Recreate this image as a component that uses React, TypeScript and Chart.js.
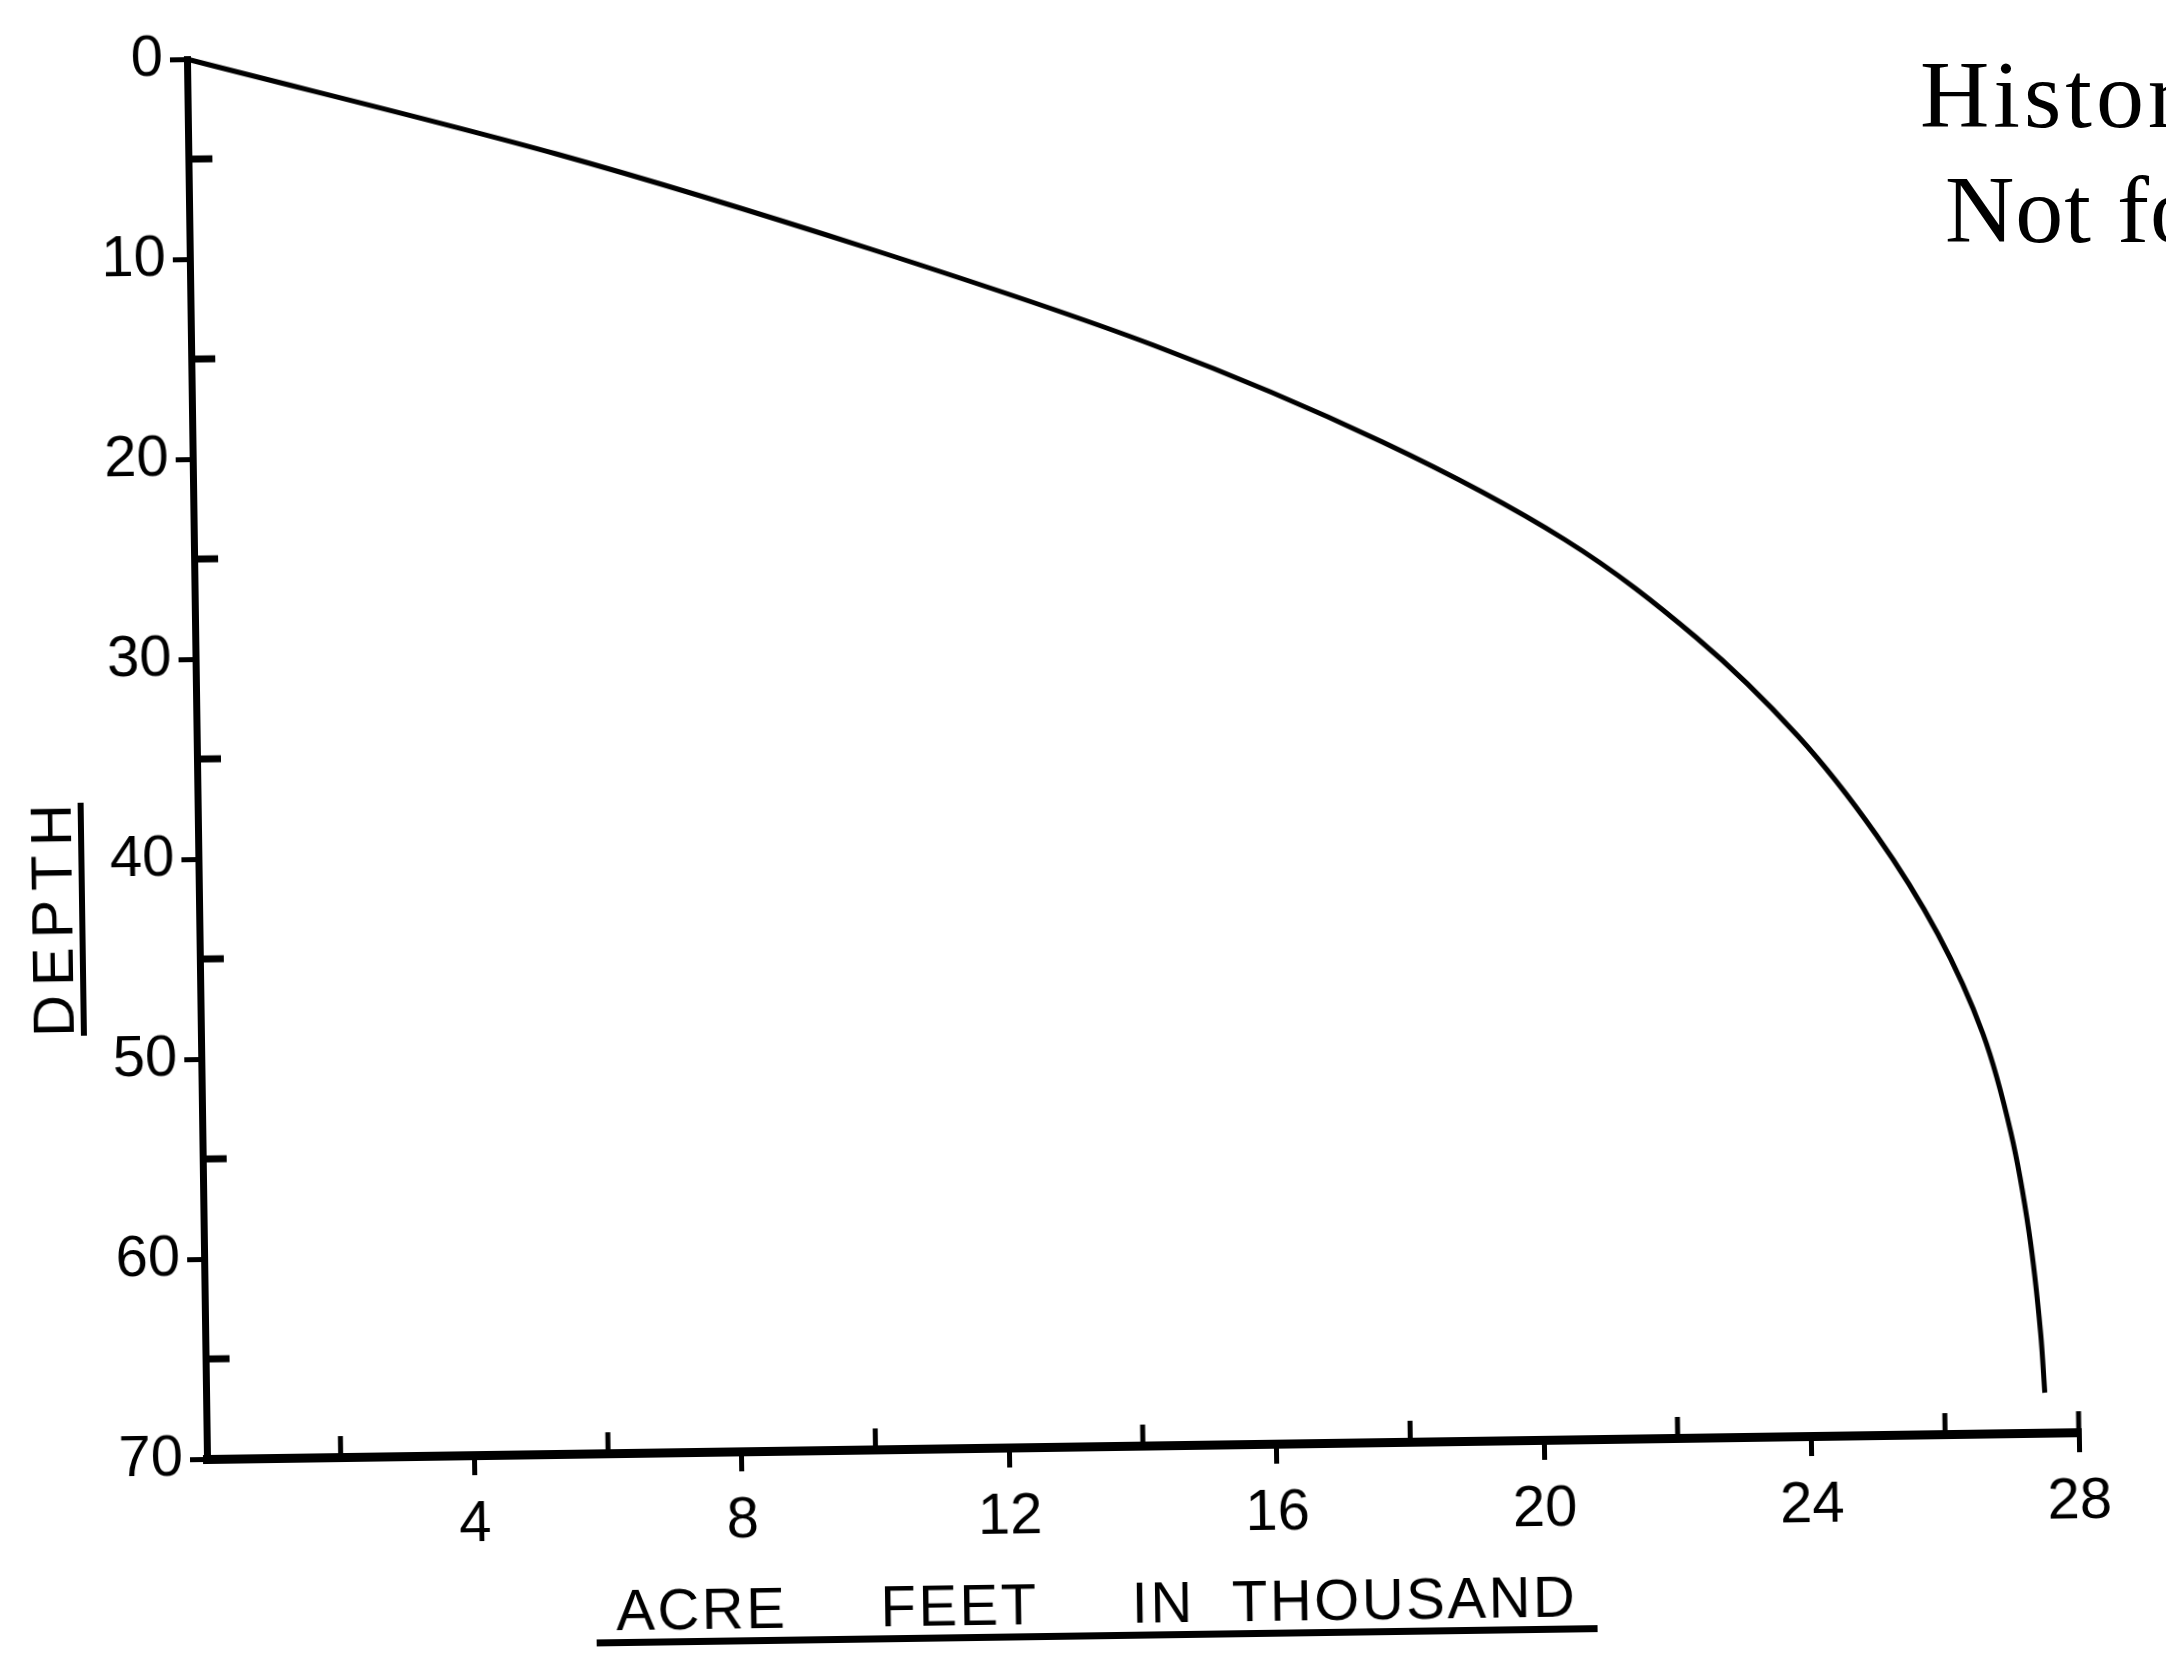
import React, { useEffect, useRef } from "react";
import { Chart, registerables } from "chart.js";

Chart.register(...registerables);

// ---- data ----
const depthValues = [0, 5, 10, 15, 20, 25, 30, 35, 40, 45, 50, 55, 60, 65, 68];
const acreFeetThousands = [0, 5.5, 10.2, 14.4, 17.8, 20.5, 22.45, 23.95, 25.1, 26.0, 26.65, 27.05, 27.3, 27.45, 27.5];

const xMinorTicks = [2, 6, 10, 14, 18, 22, 26, 28];
const yMinorTicks = [5, 15, 25, 35, 45, 55, 65];

const xTitle = "ACRE     FEET     IN  THOUSAND";
const yTitle = "DEPTH";
const watermarkLines = ["Historical", "Not for"];

const LETTER_FONT = '"Liberation Sans", Arial, sans-serif';

const decorPlugin = {
  id: "decor",
  afterDraw(chart: any) {
    const { ctx, chartArea, scales } = chart;
    const xs = scales.x;
    const ys = scales.y;
    ctx.save();
    ctx.strokeStyle = "#000";
    ctx.fillStyle = "#000";
    ctx.lineCap = "butt";

    // inward minor ticks on the depth axis
    ctx.lineWidth = 7;
    yMinorTicks.forEach((v) => {
      const py = ys.getPixelForValue(v);
      ctx.beginPath();
      ctx.moveTo(chartArea.left, py);
      ctx.lineTo(chartArea.left + 24, py);
      ctx.stroke();
    });

    // upward minor ticks on the acre-feet axis
    ctx.lineWidth = 5;
    xMinorTicks.forEach((v) => {
      const px = xs.getPixelForValue(v);
      ctx.beginPath();
      ctx.moveTo(px, chartArea.bottom);
      ctx.lineTo(px, chartArea.bottom - 21);
      ctx.stroke();
    });

    // x axis title with underline
    ctx.font = "58px " + LETTER_FONT;
    ctx.textBaseline = "alphabetic";
    ctx.textAlign = "left";
    (ctx as any).letterSpacing = "2.5px";
    ctx.fillText(xTitle, chartArea.left + 407, chartArea.bottom + 177);
    ctx.fillRect(chartArea.left + 387, chartArea.bottom + 186, 1001, 7);

    // y axis title (rotated) with underline
    (ctx as any).letterSpacing = "9px";
    ctx.translate(80, chartArea.top + 859);
    ctx.rotate(-Math.PI / 2);
    ctx.textAlign = "center";
    ctx.fillText(yTitle, 4, 0);
    ctx.fillRect(-116, 7, 233, 6);
    ctx.restore();
  },
};

export default function App() {
  const canvasRef = useRef<HTMLCanvasElement | null>(null);

  useEffect(() => {
    if (!canvasRef.current) return;
    const points = depthValues.map((d, i) => ({ x: acreFeetThousands[i], y: d }));
    const chart = new Chart(canvasRef.current, {
      type: "line",
      data: {
        datasets: [
          {
            data: points,
            borderColor: "#000",
            borderWidth: 5,
            pointRadius: 0,
            fill: false,
            cubicInterpolationMode: "monotone",
            clip: false,
          } as any,
        ],
      },
      options: {
        animation: false,
        responsive: false,
        indexAxis: "y",
        layout: { padding: { left: 0, top: 59, right: 87, bottom: 0 } },
        plugins: {
          legend: { display: false },
          tooltip: { enabled: false },
          title: { display: false },
        },
        scales: {
          x: {
            type: "linear",
            position: "bottom",
            min: 0,
            max: 28,
            afterFit: (s: any) => {
              s.height = 209;
            },
            border: { display: true, color: "#000", width: 9 },
            grid: {
              display: true,
              drawOnChartArea: false,
              drawTicks: true,
              tickLength: 20,
              lineWidth: 5,
              tickWidth: 5,
              color: "#000",
              tickColor: (c: any) => (c.tick && c.tick.value === 0 ? "rgba(0,0,0,0)" : "#000"),
            },
            ticks: {
              stepSize: 4,
              autoSkip: false,
              maxRotation: 0,
              padding: 21,
              color: "#000",
              font: { family: LETTER_FONT, size: 58, lineHeight: 1 },
              callback: (v: any) => (Number(v) === 0 ? "" : String(v)),
            },
          },
          y: {
            type: "linear",
            position: "left",
            reverse: true,
            min: 0,
            max: 70,
            afterFit: (s: any) => {
              s.width = 207;
            },
            border: { display: true, color: "#000", width: 7 },
            grid: {
              display: true,
              drawOnChartArea: false,
              drawTicks: true,
              tickLength: 17,
              lineWidth: 5,
              tickWidth: 5,
              color: "#000",
              tickColor: "#000",
            },
            ticks: {
              stepSize: 10,
              autoSkip: false,
              padding: 7,
              color: "#000",
              font: { family: LETTER_FONT, size: 58, lineHeight: 1 },
              callback: (v: any) => String(v),
            },
          },
        },
      } as any,
      plugins: [decorPlugin],
    });
    return () => chart.destroy();
  }, []);

  return (
    <div
      style={{
        position: "fixed",
        left: 0,
        top: 0,
        width: 2166,
        height: 1668,
        overflow: "hidden",
        background: "#fff",
      }}
    >
      <canvas
        ref={canvasRef}
        width={2166}
        height={1668}
        style={{
          position: "absolute",
          left: 0,
          top: 0,
          width: 2166,
          height: 1668,
          transformOrigin: "207px 1459px",
          transform: "rotate(-0.82deg)",
        }}
      />
      {watermarkLines.map((line, i) => (
        <div
          key={i}
          style={{
            position: "absolute",
            left: i === 0 ? 1920 : 1945,
            top: i === 0 ? 47 : 162,
            fontFamily: '"Liberation Serif", "Times New Roman", serif',
            fontSize: 96,
            lineHeight: "96px",
            letterSpacing: i === 0 ? "4px" : "1px",
            whiteSpace: "nowrap",
            color: "#000",
          }}
        >
          {line}
        </div>
      ))}
    </div>
  );
}
